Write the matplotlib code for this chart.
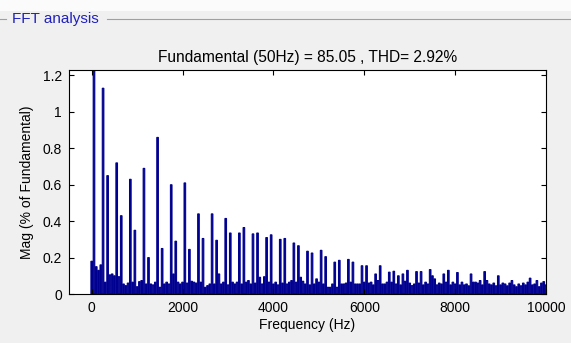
import numpy as np
import matplotlib
matplotlib.use("Agg")
from matplotlib import pyplot as plt
from matplotlib.patches import Rectangle
from matplotlib.lines import Line2D

plt.rcParams['font.family'] = ['Liberation Sans', 'DejaVu Sans']

# FFT bins: 0 .. 10000 Hz, 50 Hz apart (bin 1 = fundamental, clipped by the y limit)
freqs = np.arange(0, 10001, 50)
mag = [
    0.18, 100, 0.15, 0.13, 0.16, 1.13, 0.065, 0.65, 0.105, 0.11,
    0.10, 0.72, 0.095, 0.43, 0.055, 0.046, 0.06, 0.63, 0.065, 0.35,
    0.04, 0.068, 0.074, 0.69, 0.055, 0.20, 0.055, 0.05, 0.065, 0.86,
    0.037, 0.25, 0.055, 0.065, 0.055, 0.60, 0.11, 0.29, 0.065, 0.055,
    0.065, 0.61, 0.06, 0.245, 0.07, 0.065, 0.06, 0.44, 0.065, 0.305,
    0.037, 0.046, 0.055, 0.44, 0.055, 0.295, 0.11, 0.055, 0.065, 0.415,
    0.05, 0.335, 0.065, 0.055, 0.065, 0.335, 0.055, 0.365, 0.065, 0.074,
    0.055, 0.33, 0.06, 0.335, 0.092, 0.055, 0.095, 0.31, 0.065, 0.325,
    0.055, 0.065, 0.05, 0.30, 0.06, 0.305, 0.055, 0.065, 0.074, 0.28,
    0.065, 0.265, 0.092, 0.07, 0.055, 0.235, 0.05, 0.225, 0.055, 0.083,
    0.065, 0.24, 0.055, 0.205, 0.037, 0.037, 0.055, 0.175, 0.037, 0.185,
    0.055, 0.055, 0.06, 0.19, 0.065, 0.175, 0.055, 0.055, 0.055, 0.155,
    0.065, 0.155, 0.06, 0.065, 0.05, 0.11, 0.074, 0.155, 0.055, 0.055,
    0.065, 0.12, 0.065, 0.125, 0.055, 0.10, 0.05, 0.11, 0.07, 0.13,
    0.06, 0.046, 0.055, 0.123, 0.06, 0.123, 0.05, 0.065, 0.055, 0.134,
    0.10, 0.083, 0.05, 0.06, 0.055, 0.11, 0.065, 0.13, 0.05, 0.065,
    0.055, 0.118, 0.05, 0.065, 0.05, 0.055, 0.045, 0.11, 0.065, 0.065,
    0.06, 0.074, 0.05, 0.123, 0.074, 0.055, 0.05, 0.06, 0.045, 0.10,
    0.05, 0.06, 0.055, 0.045, 0.06, 0.074, 0.05, 0.04, 0.055, 0.045,
    0.06, 0.05, 0.065, 0.087, 0.05, 0.055, 0.074, 0.04, 0.06, 0.068,
    0.05,
]
title = "Fundamental (50Hz) = 85.05 , THD= 2.92%"

fig = plt.figure(figsize=(5.71, 3.43), dpi=100)
fig.patch.set_facecolor('#f0f0f0')

# whitish strip above the panel
fig.add_artist(Rectangle((0, 1 - 11 / 343), 1, 11 / 343, transform=fig.transFigure,
                         facecolor='#fbfbfb', edgecolor='none'))
# panel frame line + label
y_line = 1 - 18.5 / 343
fig.add_artist(Line2D([0, 6 / 571], [y_line, y_line], transform=fig.transFigure, color='#a0a0a0', lw=0.8))
fig.add_artist(Line2D([107 / 571, 1], [y_line, y_line], transform=fig.transFigure, color='#a0a0a0', lw=0.8))
fig.text(12 / 571, y_line, "FFT analysis", color='#2020c0', fontsize=11, va='center', ha='left')

ax = fig.add_axes([69 / 571, 1 - 294 / 343, 477 / 571, 224 / 343])
bars = ax.bar(freqs, mag, width=36, color='#000090', edgecolor='#000090', linewidth=0.75)
for b in bars:
    b.set_snap(False)
ax.set_xlim(-500, 10000)
ax.set_ylim(0, 1.23)
ax.set_xticks([0, 2000, 4000, 6000, 8000, 10000])
ax.set_yticks([0, 0.2, 0.4, 0.6, 0.8, 1.0, 1.2])
ax.set_yticklabels(['0', '0.2', '0.4', '0.6', '0.8', '1', '1.2'])
ax.tick_params(direction='in', top=True, right=True, length=3.5, width=0.8, labelsize=10, pad=5)
for s in ax.spines.values():
    s.set_linewidth(0.8)
ax.set_title(title, fontsize=11.2, pad=6)
ax.set_xlabel("Frequency (Hz)", fontsize=10, labelpad=2)
ax.set_ylabel("Mag (% of Fundamental)", fontsize=10, labelpad=6)

fig.savefig("out.png", dpi=100, facecolor=fig.get_facecolor())
